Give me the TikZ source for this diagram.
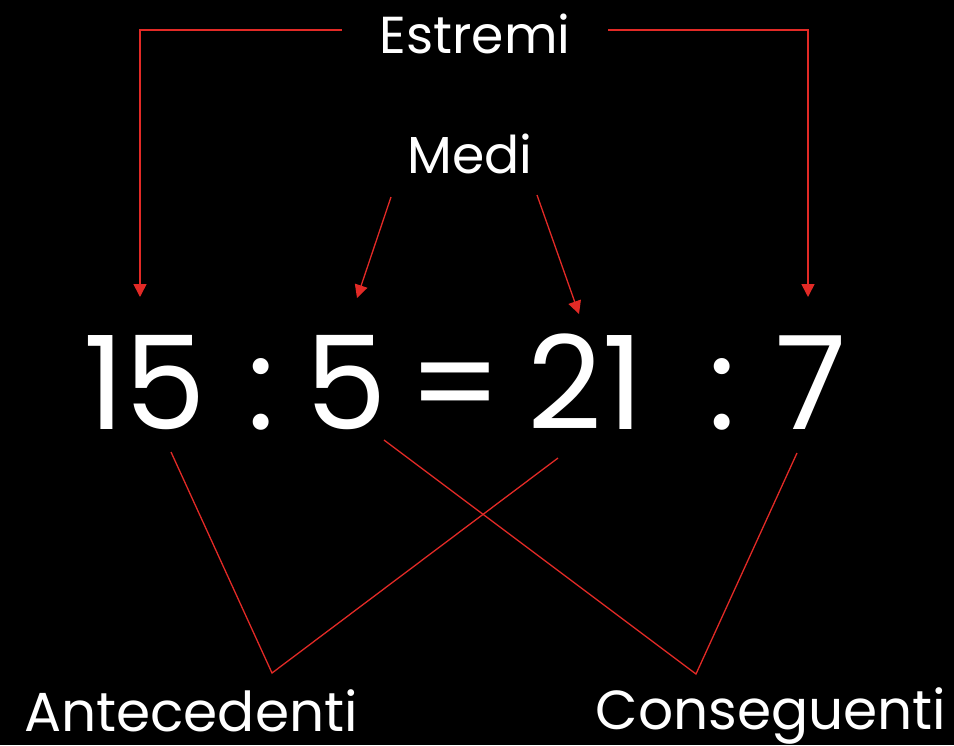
\documentclass[tikz,border=0pt]{standalone}
\usepackage{fontspec}
\setmainfont{Poppins}
\usetikzlibrary{arrows.meta}
\definecolor{redline}{RGB}{226,42,38}
\begin{document}
\begin{tikzpicture}[x=1pt,y=-1pt,
  lbl/.style={text=white,inner sep=0pt,anchor=base,font=\fontsize{52}{52}\selectfont},
  big/.style={text=white,inner sep=0pt,anchor=base,font=\fontsize{130}{130}\selectfont},
  arr/.style={draw=redline,line width=1.6pt,-{Triangle[length=13pt,width=13pt]}},
  ln/.style={draw=redline,line width=1.3pt}]
\fill[black] (0,0) rectangle (954,745);
\useasboundingbox (0,0) rectangle (954,745);
% labels
\node[lbl] (estremi) at (475,53) {Estremi};
\node[lbl] (medi) at (470,173) {Medi};
\node[lbl,font=\fontsize{55}{55}\selectfont] (ante) at (191,731) {Antecedenti};
\node[lbl,font=\fontsize{55}{55}\selectfont] (cons) at (771,729) {Conseguenti};
% equation
\node[big] (n15) at (145,429) {15};
\node[big] (c1) at (261,429) {:};
\node[big] (n5) at (346,429) {5};
\node[big] (eq) at (455,429) {=};
\node[big] (n21) at (586,429) {21};
\node[big] (c2) at (722,429) {:};
\node[big] (n7) at (811,429) {7};
% endpoints
\coordinate (eL) at (342,30);
\coordinate (eR) at (608,30);
\coordinate (t15) at (140,297);
\coordinate (t7) at (808,297);
\coordinate (mL) at (391,197);
\coordinate (mR) at (537,195);
\coordinate (t5) at (357,298);
\coordinate (t21) at (579,314);
\coordinate (b15) at (171,452);
\coordinate (b5) at (384,440);
\coordinate (b21) at (558,458);
\coordinate (b7) at (797,453);
\coordinate (vA) at (272,673);
\coordinate (vC) at (696,674);
% connectors
\draw[arr] (eL) -| (t15);
\draw[arr] (eR) -| (t7);
\draw[arr,line width=1.3pt] (mL) -- (t5);
\draw[arr,line width=1.3pt] (mR) -- (t21);
\draw[ln] (b15) -- (vA) -- (b21);
\draw[ln] (b5) -- (vC) -- (b7);
\end{tikzpicture}
\end{document}
